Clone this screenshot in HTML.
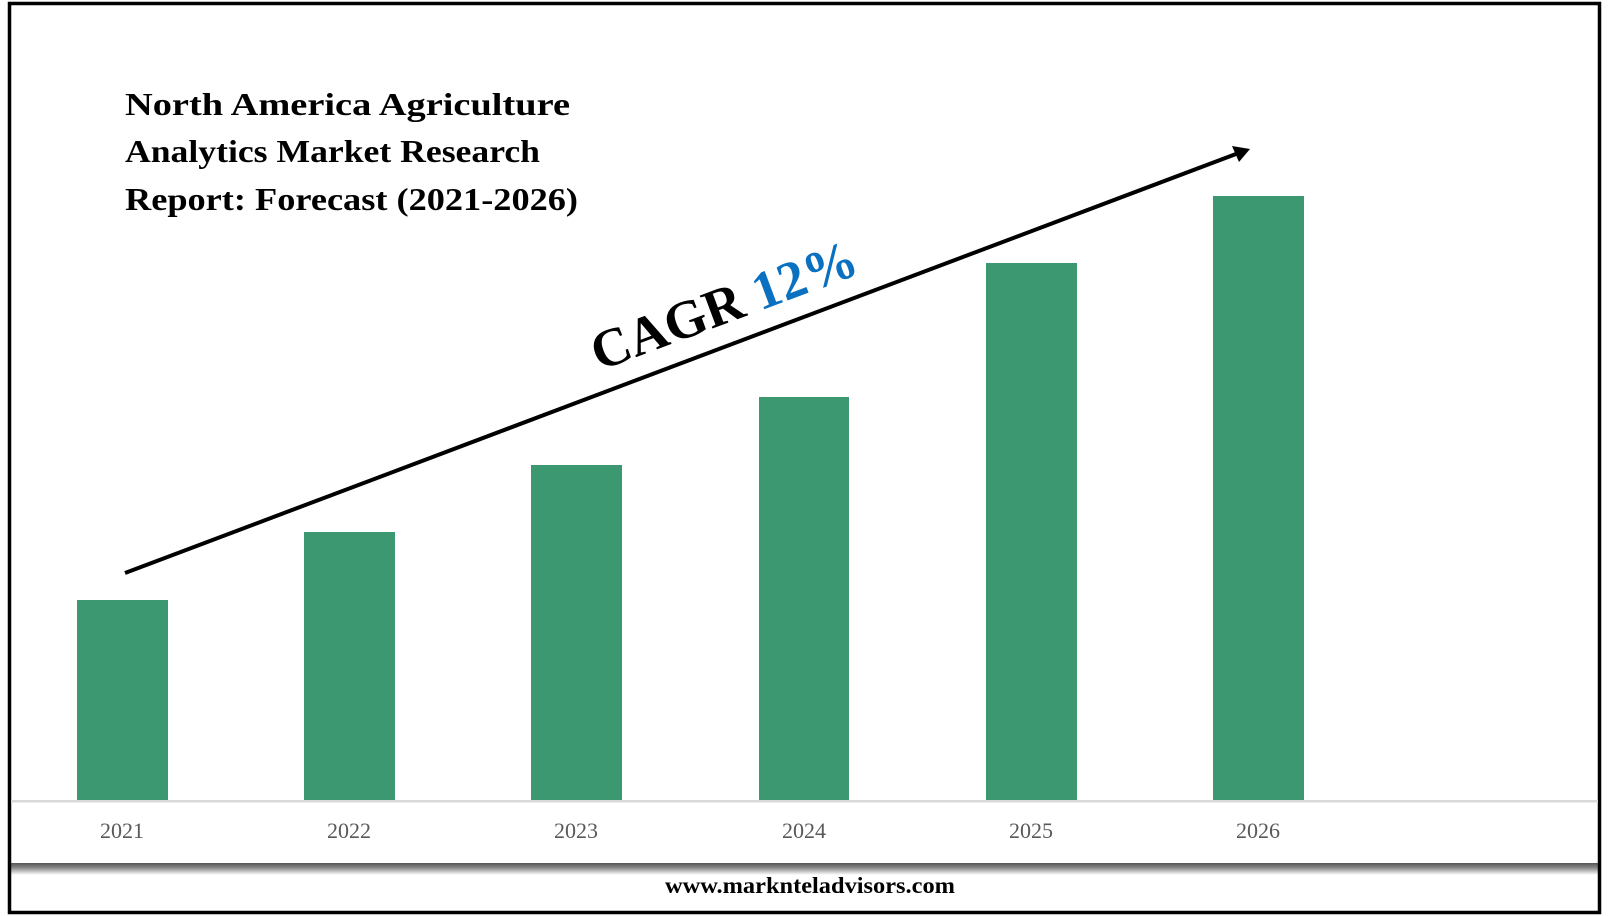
<!DOCTYPE html>
<html><head><meta charset="utf-8"><style>
html,body{margin:0;padding:0;background:#fff;}
svg{display:block;}
</style></head><body>
<svg width="1608" height="916" viewBox="0 0 1608 916" xmlns="http://www.w3.org/2000/svg">
<defs>
<linearGradient id="sh" x1="0" y1="0" x2="0" y2="1">
<stop offset="0" stop-color="#555"/>
<stop offset="0.4" stop-color="#888"/>
<stop offset="1" stop-color="#fff"/>
</linearGradient>
</defs>
<rect x="0" y="0" width="1608" height="916" fill="#fff"/>
<rect x="11" y="863" width="1587" height="12" fill="url(#sh)"/>
<rect x="9.5" y="3.5" width="1590" height="909" fill="none" stroke="#000" stroke-width="3.5"/>
<rect x="11" y="800" width="1587" height="2.5" fill="#d9d9d9"/>
<g fill="#3c9870">
<rect x="77" y="600" width="91" height="200"/>
<rect x="304" y="532" width="91" height="268"/>
<rect x="531" y="465" width="91" height="335"/>
<rect x="759" y="397" width="90" height="403"/>
<rect x="986" y="263" width="91" height="537"/>
<rect x="1213" y="196" width="91" height="604"/>
</g>
<g font-family="'Liberation Serif', serif" font-size="22" fill="#595959" text-anchor="middle">
<text x="122" y="838">2021</text>
<text x="349" y="838">2022</text>
<text x="576" y="838">2023</text>
<text x="804" y="838">2024</text>
<text x="1031" y="838">2025</text>
<text x="1258" y="838">2026</text>
</g>
<line x1="125" y1="573" x2="1236" y2="154" stroke="#000" stroke-width="4"/>
<polygon points="1250,149 1232,146 1239,162" fill="#000"/>
<g font-family="'Liberation Serif', serif" font-weight="bold" font-size="32" fill="#000">
<text x="125" y="115" textLength="445" lengthAdjust="spacingAndGlyphs">North America Agriculture</text>
<text x="125" y="162" textLength="415" lengthAdjust="spacingAndGlyphs">Analytics Market Research</text>
<text x="125" y="210" textLength="453" lengthAdjust="spacingAndGlyphs">Report: Forecast (2021-2026)</text>
</g>
<g transform="translate(599,371) rotate(-20.5)" font-family="'Liberation Serif', serif" font-weight="bold" font-size="54">
<text x="0" y="0" textLength="280" lengthAdjust="spacingAndGlyphs"><tspan fill="#000">CAGR </tspan><tspan fill="#0a70c0">12%</tspan></text>
</g>
<text x="810" y="893" text-anchor="middle" font-family="'Liberation Serif', serif" font-weight="bold" font-size="23" fill="#000" textLength="290" lengthAdjust="spacingAndGlyphs">www.marknteladvisors.com</text>
</svg>
</body></html>
